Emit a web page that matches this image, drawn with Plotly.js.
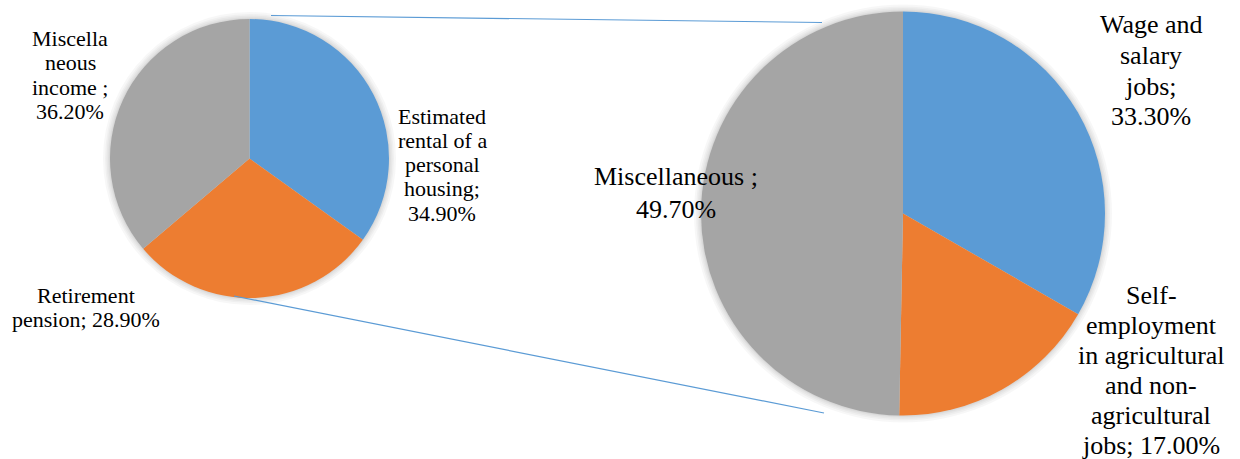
<!DOCTYPE html>
<html>
<head>
<meta charset="utf-8">
<script src="https://cdn.plot.ly/plotly-3.0.1.min.js"></script>
</head>
<body style="margin:0">
<div id="chart"></div>
<script>
// ---- data ----
const leftLabels = ['Estimated rental of a personal housing', 'Retirement pension', 'Miscellaneous income'];
const leftValues = [34.9, 28.9, 36.2];
const leftLabelLines = [
  ['Estimated', 'rental of a', 'personal', 'housing;', '{v}'],
  ['Retirement', 'pension; {v}'],
  ['Miscella', 'neous', 'income ;', '{v}']
];
const rightLabels = ['Wage and salary jobs', 'Self-employment in agricultural and non-agricultural jobs', 'Miscellaneous'];
const rightValues = [33.3, 17.0, 49.7];
const rightLabelLines = [
  ['Wage and', 'salary', 'jobs;', '{v}'],
  ['Self-', 'employment', 'in agricultural', 'and non-', 'agricultural', 'jobs; {v}'],
  ['Miscellaneous ;', '{v}']
];
const colors = ['#5B9BD5', '#ED7D31', '#A5A5A5'];

// ---- layout constants (pixels) ----
const W = 1240, H = 459;
const px = x => x / W;
const py = y => 1 - y / H;
const leftPie = {cx: 249.5, cy: 158.5, r: 139.5};
const rightPie = {cx: 903, cy: 213.5, r: 202};
const FONT = 'Liberation Serif';
// label anchor: center x, first line center y, line spacing, font size
const leftLabelPos = [
  {x: 442, y: 116, dy: 24.3, size: 22},
  {x: 86, y: 295, dy: 24.3, size: 22},
  {x: 70, y: 38, dy: 24.6, size: 22}
];
const rightLabelPos = [
  {x: 1151, y: 25, dy: 30.6, size: 26},
  {x: 1151, y: 295, dy: 30, size: 26},
  {x: 676, y: 177, dy: 33, size: 26}
];

function domainOf(p, extra) {
  const r = p.r + (extra || 0);
  return {x: [px(p.cx - r), px(p.cx + r)], y: [py(p.cy + r), py(p.cy - r)]};
}

function pieTrace(labels, values, p) {
  return {
    type: 'pie', labels: labels, values: values, sort: false,
    direction: 'clockwise', rotation: 0, textinfo: 'none', hoverinfo: 'label+percent',
    marker: {colors: colors, line: {width: 0}}, showlegend: false,
    domain: domainOf(p)
  };
}

// soft shadow halo behind each pie
function shadowTraces(p) {
  return [7, 5, 3.5, 2, 1].map(e => ({
    type: 'pie', labels: ['shadow'], values: [1], sort: false, textinfo: 'none', hoverinfo: 'skip',
    marker: {colors: ['rgba(0,0,0,0.03)'], line: {width: 0}}, showlegend: false,
    domain: domainOf(p, e)
  }));
}

const annotations = [];
function addLabels(lines, values, pos) {
  lines.forEach((ls, i) => {
    const v = values[i].toFixed(2) + '%';
    ls.forEach((t, j) => {
      annotations.push({
        xref: 'paper', yref: 'paper', showarrow: false,
        x: px(pos[i].x), y: py(pos[i].y + j * pos[i].dy),
        xanchor: 'center', yanchor: 'middle',
        text: t.replace('{v}', v),
        font: {family: FONT, size: pos[i].size, color: '#000'}
      });
    });
  });
}
addLabels(leftLabelLines, leftValues, leftLabelPos);
addLabels(rightLabelLines, rightValues, rightLabelPos);

const lineStyle = {color: '#5B9BD5', width: 1.2};
const shapes = [
  {type: 'line', xref: 'paper', yref: 'paper', x0: px(271), y0: py(15.5), x1: px(822), y1: py(22.5), line: lineStyle},
  {type: 'line', xref: 'paper', yref: 'paper', x0: px(234), y0: py(296), x1: px(824), y1: py(413), line: lineStyle}
];

const traces = [].concat(
  shadowTraces(leftPie), shadowTraces(rightPie),
  [pieTrace(leftLabels, leftValues, leftPie), pieTrace(rightLabels, rightValues, rightPie)]
);

Plotly.newPlot('chart', traces, {
  width: W, height: H,
  margin: {l: 0, r: 0, t: 0, b: 0},
  annotations: annotations,
  shapes: shapes
}, {staticPlot: true});
</script>
</body>
</html>
